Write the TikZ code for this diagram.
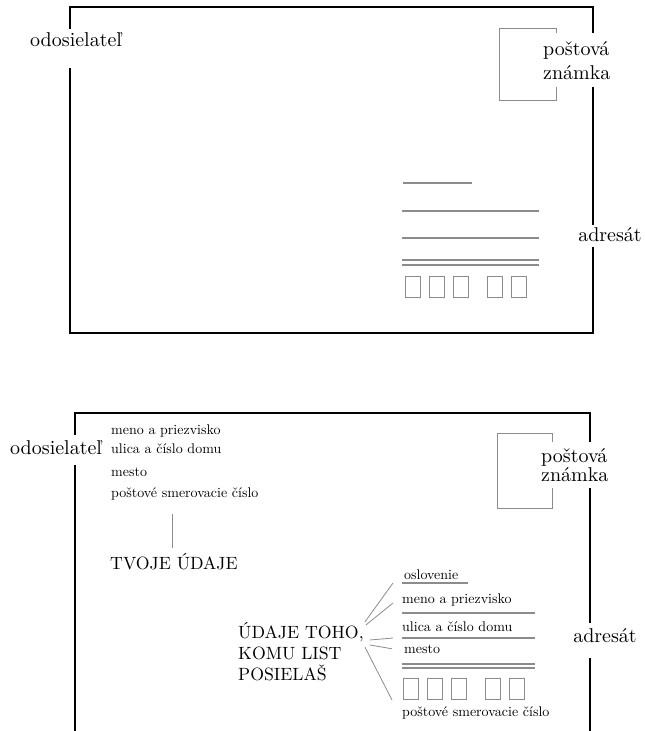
\documentclass[tikz,border=0pt]{standalone}
\usepackage{fontspec}
\setmainfont{lmroman10-regular.otf}
\usepackage{tikz}
\usetikzlibrary{positioning,calc}

\begin{document}
\begin{tikzpicture}[
        x=1pt, y=-1pt,
        envelope/.style={draw, line width=1.5pt},
        stamp/.style={draw=black!45, line width=0.9pt},
        rule/.style={draw=black!45, line width=1.1pt},
        zipbox/.style={draw=black!45, line width=1pt, minimum width=15pt, minimum height=21pt, inner sep=0pt, anchor=north west},
        lead/.style={draw=black!45, line width=0.8pt},
        tag/.style={fill=white, inner sep=0pt, font=\fontsize{20}{24}\selectfont},
        item/.style={inner sep=0pt, anchor=base west, font=\fontsize{14}{16}\selectfont},
        caps/.style={inner sep=0pt, align=left, font=\fontsize{17.75}{21}\selectfont}
    ]
    \useasboundingbox (0,0) rectangle (645,731);

    % top envelope
    \draw[envelope] (70,7) rectangle (593,333);
    \draw[stamp] (499,28) rectangle (556,100);
    \node[tag, anchor=base west, text height=17pt, text depth=22pt] (senderA) at (30,46) {odosielateľ};
    \node[tag, anchor=north west, align=left, inner xsep=2pt, inner ysep=8pt] (stampA) at (541,33) {poštová\\známka};
    \node[tag, anchor=base, text height=16pt, text depth=6pt] (rcptA) at (610,241) {adresát};
    \draw[rule] (403,183) -- (472,183);
    \foreach \y in {211,238,260,265}
        \draw[rule] (402,\y) -- (539,\y);
    \foreach \n/\x in {1/405,2/429,3/453,4/487,5/511}
        \node[zipbox] (zA\n) at (\x,276) {};

    % bottom envelope
    \draw[envelope] (75,740) -- (75,413) -- (590,413) -- (590,740);
    \draw[stamp] (497,433) rectangle (552,508);
    \node[tag, anchor=base west, text height=19pt, text depth=11pt] (senderB) at (10,454) {odosielateľ};
    \node[tag, anchor=north west, align=left, inner xsep=2pt, inner ysep=6.5pt, font=\fontsize{20}{19}\selectfont] (stampB) at (539,442) {poštová\\známka};
    \node[tag, anchor=base, text height=19pt, text depth=16pt] (rcptB) at (605,642) {adresát};

    % sender
    \node[item] (sndName) at (111,434) {meno a priezvisko};
    \node[item] (sndStreet) at (111,453) {ulica a číslo domu};
    \node[item] (sndCity) at (111,476) {mesto};
    \node[item] (sndZip) at (111,497) {poštové smerovacie číslo};
    \node[caps, anchor=base west] (own) at (110,569) {TVOJE ÚDAJE};
    \draw[lead] ([xshift=-2pt,yshift=5pt]own.north) -- ([xshift=-2pt,yshift=-14pt]own.north |- sndZip.south);

    % addressee
    \node[item] (greet) at (404,579) {oslovenie};
    \coordinate (L1) at (402,583);
    \draw[rule] (L1) -- ++(66,0);
    \node[item] (rcpName) at (402,603) {meno a priezvisko};
    \coordinate (L2) at (402,613);
    \draw[rule] (L2) -- ++(133,0);
    \node[item] (rcpStreet) at (402,631) {ulica a číslo domu};
    \coordinate (L3) at (402,638);
    \draw[rule] (L3) -- ++(133,0);
    \node[item] (rcpCity) at (404,653) {mesto};
    \foreach \y in {664,668}
        \draw[rule] (402,\y) -- (535,\y);
    \foreach \n/\x in {1/403,2/427,3/451,4/485,5/509}
        \node[zipbox] (zB\n) at (\x,678) {};
    \node[item] (rcpZip) at (402,716) {poštové smerovacie číslo};

    \node[caps, anchor=north west] (rcpt) at (238,622) {ÚDAJE TOHO,\\KOMU LIST\\POSIELAŠ};
    \draw[lead] ([xshift=1pt]rcpt.north east) -- ([xshift=-9pt]L1);
    \draw[lead] ([xshift=2pt,yshift=-3pt]rcpt.north east) -- ([xshift=-9pt]rcpName.base west);
    \draw[lead] ([xshift=6pt,yshift=-18pt]rcpt.north east) -- ([xshift=-9pt]L3);
    \draw[lead] ([xshift=6pt,yshift=-23pt]rcpt.north east) -- ([xshift=-12pt]rcpCity.west);
    \draw[lead] ([xshift=1pt,yshift=-25pt]rcpt.north east) -- ([xshift=-11pt]zB1.south west);
\end{tikzpicture}
\end{document}
